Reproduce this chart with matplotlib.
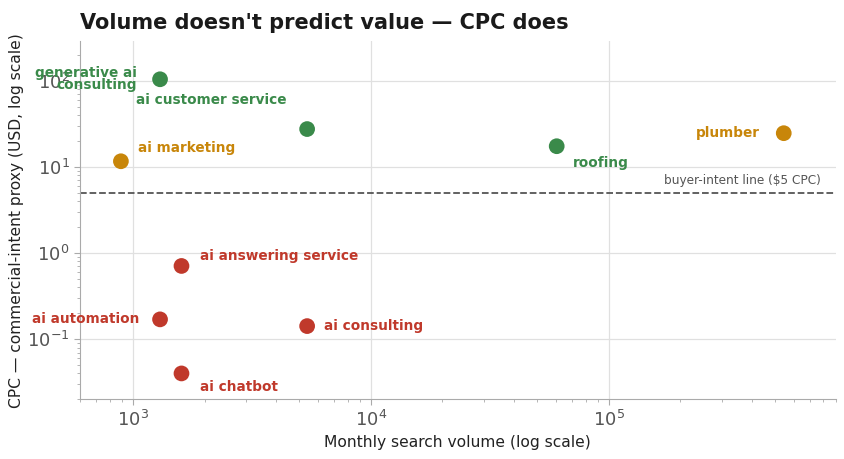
import matplotlib
matplotlib.use("Agg")
import matplotlib.pyplot as plt

# keyword data: monthly volume, CPC (USD)
keywords = ["generative ai\nconsulting", "ai customer service", "roofing", "plumber",
            "ai marketing", "ai answering service", "ai automation", "ai consulting",
            "ai chatbot"]
volume = [1300, 5400, 60500, 545000, 890, 1600, 1300, 5400, 1600]
cpc = [105, 27.7, 17.5, 24.8, 11.7, 0.71, 0.17, 0.142, 0.040]
colors = ["#3a8a4a", "#3a8a4a", "#3a8a4a", "#c8860a", "#c8860a",
          "#c0392b", "#c0392b", "#c0392b", "#c0392b"]

# label offsets in points (dx, dy, ha)
offsets = [(-17, 0, "right"), (-15, 21, "right"), (11.5, -12, "left"),
           (-17, 0, "right"), (12, 9.5, "left"), (13, 7, "left"),
           (-15, 0, "right"), (12, 0, "left"), (13, -9.5, "left")]

threshold = 5

fig, ax = plt.subplots(figsize=(8.44, 4.59), dpi=100)
fig.subplots_adjust(left=0.095, right=0.99, top=0.91, bottom=0.13)

ax.scatter(volume, cpc, s=128, c=colors, zorder=3, edgecolors="none")
for k, x, y, c, (dx, dy, ha) in zip(keywords, volume, cpc, colors, offsets):
    ax.annotate(k, (x, y), xytext=(dx, dy), textcoords="offset points",
                ha=ha, va="center", color=c, fontsize=9.8, fontweight="bold",
                linespacing=0.85, zorder=4)

ax.axhline(threshold, color="#555555", linestyle="--", linewidth=1.3, zorder=2)
ax.annotate("buyer-intent line ($5 CPC)", (0.981, threshold),
            xycoords=ax.get_yaxis_transform(), xytext=(0, 4),
            textcoords="offset points", ha="right", va="bottom",
            color="#555555", fontsize=8.7)

ax.set_xscale("log")
ax.set_yscale("log")
ax.set_xlim(600, 900000)
ax.set_ylim(0.02, 290)
ax.grid(True, which="major", color="#e0e0e0", linewidth=0.9, zorder=0)
for s in ["top", "right"]:
    ax.spines[s].set_visible(False)
ax.spines["left"].set_color("#aaaaaa")
ax.spines["bottom"].set_color("#aaaaaa")
ax.tick_params(axis="both", which="major", labelsize=13, labelcolor="#555555",
               color="#aaaaaa", length=4)
ax.tick_params(axis="both", which="minor", color="#aaaaaa", length=2.5)

ax.set_xlabel("Monthly search volume (log scale)", fontsize=11.2, color="#222222")
ax.set_ylabel("CPC — commercial-intent proxy (USD, log scale)", fontsize=11.2,
              color="#222222", labelpad=2)
ax.set_title("Volume doesn't predict value — CPC does", loc="left", fontsize=15,
             fontweight="bold", color="#1a1a1a", pad=9)

plt.savefig("out.png", dpi=100)
